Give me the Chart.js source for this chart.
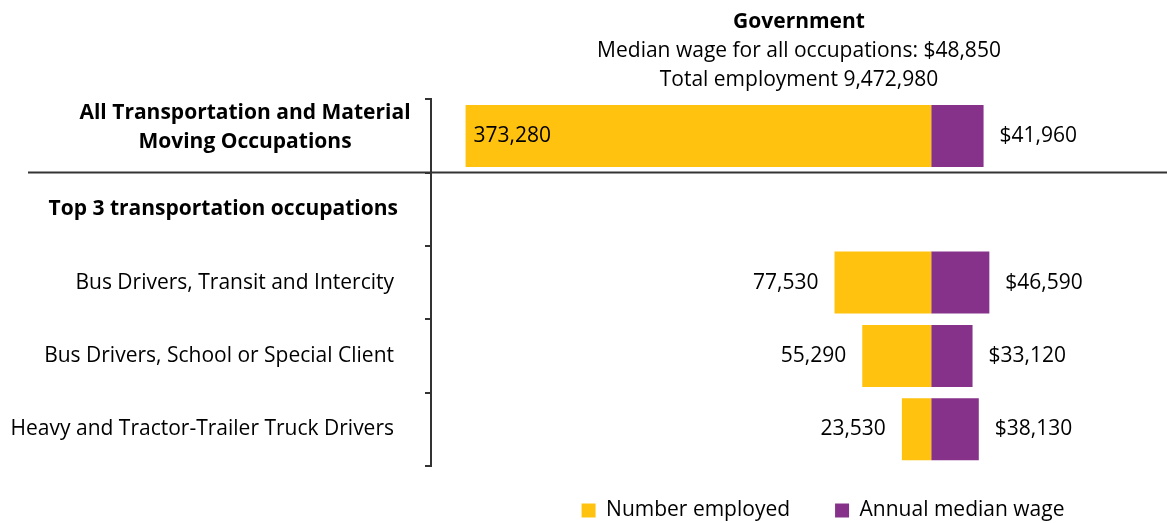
<!DOCTYPE html>
<html>
<head>
<meta charset="utf-8">
<script src="https://cdn.jsdelivr.net/npm/chart.js@4.4.0/dist/chart.umd.min.js"></script>
<style>
  body { margin: 0; background: #fff; overflow: hidden; }
  #wrap { width: 1167px; height: 523px; }
  canvas { display: block; }
</style>
</head>
<body>
<div id="wrap"><canvas id="chart" width="1167" height="523"></canvas></div>
<script>
const categories = [
    'All Transportation and Material Moving Occupations',
    'Top 3 transportation occupations',
    'Bus Drivers, Transit and Intercity',
    'Bus Drivers, School or Special Client',
    'Heavy and Tractor-Trailer Truck Drivers'
];
const employed = [373280, null, 77530, 55290, 23530];
const wages = [41960, null, 46590, 33120, 38130];

const FONT = '"Open Sans", Lato, sans-serif';
const FS = 21;
const YELLOW = '#FFC20E';
const PURPLE = '#86328A';
const LINE = '#333333';

function fmt(v) {
    return v.toLocaleString('en-US');
}

// category labels, value labels and the separator line
const annotate = {
    id: 'annotate',
    afterLayout(chart) {
        // nudge the legend: the legend clips to its own box, so only grow it upwards
        const lg = chart.legend;
        lg.left += 24; lg.right += 24;
        lg.top -= 11;
    },
    afterDatasetsDraw(chart) {
        const ctx = chart.ctx;
        const y = chart.scales.y;
        ctx.save();
        ctx.fillStyle = '#000';
        ctx.textBaseline = 'middle';

        // left labels
        categories.forEach((c, i) => {
            const py = y.getPixelForValue(i);
            if (i === 0) {
                ctx.font = 'bold ' + FS + 'px ' + FONT;
                ctx.textAlign = 'center';
                ctx.fillText('All Transportation and Material', 245, py - 23);
                ctx.fillText('Moving Occupations', 245, py + 6);
            } else if (i === 1) {
                ctx.font = 'bold ' + FS + 'px ' + FONT;
                ctx.textAlign = 'right';
                ctx.fillText(c, 398, py);
            } else {
                ctx.font = FS + 'px ' + FONT;
                ctx.textAlign = 'right';
                ctx.fillText(c, 394, py);
            }
        });

        // value labels
        ctx.font = FS + 'px ' + FONT;
        const empMeta = chart.getDatasetMeta(0);
        const wageMeta = chart.getDatasetMeta(1);
        employed.forEach((v, i) => {
            if (v == null) return;
            const bar = empMeta.data[i];
            if (i === 0) {
                ctx.textAlign = 'left';
                ctx.fillText(fmt(v), bar.x + 8, bar.y);
            } else {
                ctx.textAlign = 'right';
                ctx.fillText(fmt(v), bar.x - 16, bar.y);
            }
        });
        wages.forEach((v, i) => {
            if (v == null) return;
            const bar = wageMeta.data[i];
            ctx.textAlign = 'left';
            ctx.fillText('$' + fmt(v), bar.x + 16, bar.y);
        });

        // separator between the total and the top 3
        const sy = (y.getPixelForValue(0) + y.getPixelForValue(1)) / 2;
        ctx.strokeStyle = LINE;
        ctx.lineWidth = 2;
        ctx.beginPath();
        ctx.moveTo(28, sy);
        ctx.lineTo(chart.width, sy);
        ctx.stroke();
        ctx.restore();
    }
};

new Chart(document.getElementById('chart'), {
    type: 'bar',
    data: {
        labels: categories,
        datasets: [
            {
                label: 'Number employed',
                data: employed.map(v => v == null ? null : -v),
                backgroundColor: YELLOW,
                barPercentage: 0.845,
                categoryPercentage: 1
            },
            {
                label: 'Annual median wage',
                data: wages,
                backgroundColor: PURPLE,
                barPercentage: 0.845,
                categoryPercentage: 1
            }
        ]
    },
    options: {
        indexAxis: 'y',
        responsive: false,
        animation: false,
        layout: { padding: 0 },
        scales: {
            x: {
                stacked: true,
                display: false,
                min: -401000,
                max: 189000
            },
            y: {
                stacked: true,
                afterFit(scale) { scale.width = 431; },
                ticks: { display: false },
                grid: {
                    drawOnChartArea: false,
                    drawTicks: true,
                    tickLength: 6,
                    color: LINE,
                    lineWidth: 2
                },
                border: { display: true, color: LINE, width: 2 }
            }
        },
        plugins: {
            title: {
                display: true,
                text: 'Government',
                fullSize: false,
                color: '#000',
                font: { family: FONT, size: FS, weight: 'bold', lineHeight: 1.2 },
                padding: { top: 9, bottom: 0 }
            },
            subtitle: {
                display: true,
                text: ['Median wage for all occupations: $48,850', 'Total employment 9,472,980'],
                fullSize: false,
                color: '#000',
                font: { family: FONT, size: FS, lineHeight: 1.405 },
                padding: { top: 2, bottom: 4 }
            },
            legend: {
                position: 'bottom',
                fullSize: false,
                maxHeight: 57,
                labels: {
                    boxWidth: 14,
                    boxHeight: 14,
                    padding: 45,
                    color: '#000',
                    font: { family: FONT, size: FS }
                }
            },
            tooltip: { enabled: false }
        }
    },
    plugins: [annotate]
});
</script>
</body>
</html>
